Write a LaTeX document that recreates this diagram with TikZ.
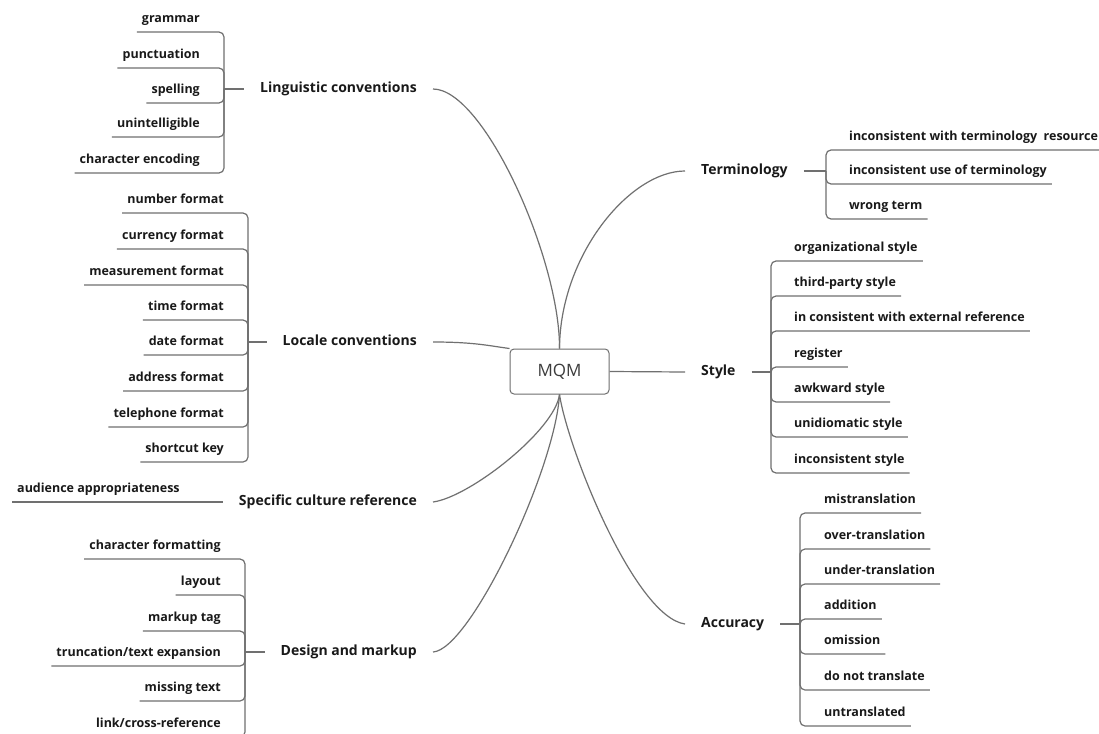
\documentclass[tikz,border=0pt]{standalone}
\usepackage{fontspec}
\setmainfont{Open Sans}
\definecolor{txt}{RGB}{25,25,25}
\definecolor{linegray}{RGB}{112,112,112}
\definecolor{boxgray}{RGB}{110,110,110}
\definecolor{rootgray}{RGB}{60,60,60}
\begin{document}
\begin{tikzpicture}[x=1pt,y=-1pt,
  line/.style={draw=linegray, line width=1.2pt, rounded corners=5pt},
  curve/.style={draw=linegray, line width=1.2pt},
  leaf/.style={font=\fontsize{12.5}{14}\selectfont\bfseries, text=txt, inner xsep=5pt, inner ysep=0pt, text height=9pt, text depth=9pt},
  topic/.style={font=\fontsize{14}{16}\selectfont\bfseries, text=txt, inner xsep=16pt, inner ysep=0pt, text height=10pt, text depth=3pt},
  root/.style={draw=boxgray, line width=1pt, rounded corners=4pt, minimum width=99pt, minimum height=45pt, inner sep=0pt, font=\fontsize{17}{20}\selectfont, text=rootgray}]
\useasboundingbox (0,0) rectangle (1099,733);
\clip (0,0) rectangle (1099,733);
\fill[white] (0,0) rectangle (1099,733);

% root
\node[root] (mqm) at (559.5,371.5) {MQM};

% main topics
\node[topic, anchor=east] (ling) at (433,89) {Linguistic conventions};
\node[topic, anchor=east] (loc) at (433,342) {Locale conventions};
\node[topic, anchor=east] (cult) at (433,502) {Specific culture reference};
\node[topic, anchor=east] (des) at (433,652) {Design and markup};
\node[topic, anchor=west] (term) at (685,171) {Terminology};
\node[topic, anchor=west] (sty) at (685,372) {Style};
\node[topic, anchor=west] (acc) at (685,624) {Accuracy};

% bracket joints
\coordinate (lingb) at (224,89);
\coordinate (locb) at (248,342);
\coordinate (desb) at (245,652);
\coordinate (termb) at (826,171);
\coordinate (styb) at (771,372);
\coordinate (accb) at (800,624);

% root connectors
\draw[curve] (ling.east) .. controls (484,89) and (560,259) .. (mqm.north);
\draw[curve] (term.west) .. controls (630,171) and (560,255) .. (mqm.north);
\draw[curve] (loc.east) .. controls (475,342) and (490,346) .. (mqm.north west);
\draw[curve] (sty.west) -- (mqm.east);
\draw[curve] (cult.east) .. controls (470,497) and (555,430) .. (mqm.south);
\draw[curve] (des.east) .. controls (470,650) and (555,470) .. (mqm.south);
\draw[curve] (acc.west) .. controls (635,617) and (568,450) .. (mqm.south);

% topic to bracket
\draw[line] (lingb) -- (ling.west);
\draw[line] (locb) -- (loc.west);
\draw[line] (desb) -- (des.west);
\draw[line] (term.east) -- (termb);
\draw[line] (sty.east) -- (styb);
\draw[line] (acc.east) -- (accb);

% Linguistic conventions
\node[leaf, anchor=south east] (g1) at (205,32) {grammar};
\node[leaf, anchor=south east] (g2) at (205,68) {punctuation};
\node[leaf, anchor=south east] (g3) at (205,103) {spelling};
\node[leaf, anchor=south east] (g4) at (205,137) {unintelligible};
\node[leaf, anchor=south east] (g5) at (205,173) {character encoding};
\foreach \i in {1,...,5} \draw[line] (lingb) |- (g\i.south west);

% Locale conventions
\node[leaf, anchor=south east] (c1) at (229,213) {number format};
\node[leaf, anchor=south east] (c2) at (229,249) {currency format};
\node[leaf, anchor=south east] (c3) at (229,285) {measurement format};
\node[leaf, anchor=south east] (c4) at (229,320) {time format};
\node[leaf, anchor=south east] (c5) at (229,355) {date format};
\node[leaf, anchor=south east] (c6) at (229,391) {address format};
\node[leaf, anchor=south east] (c7) at (229,427) {telephone format};
\node[leaf, anchor=south east] (c8) at (229,462) {shortcut key};
\foreach \i in {1,...,8} \draw[line] (locb) |- (c\i.south west);

% Specific culture reference
\node[leaf, anchor=south west] (aud) at (12,502) {audience appropriateness};
\draw[line] (cult.west) -- (aud.south west);

% Design and markup
\node[leaf, anchor=south east] (d1) at (226,559) {character formatting};
\node[leaf, anchor=south east] (d2) at (226,595) {layout};
\node[leaf, anchor=south east] (d3) at (226,631) {markup tag};
\node[leaf, anchor=south east] (d4) at (226,666) {truncation/text expansion};
\node[leaf, anchor=south east] (d5) at (226,701) {missing text};
\node[leaf, anchor=south east] (d6) at (226,737) {link/cross-reference};
\foreach \i in {1,...,6} \draw[line] (desb) |- (d\i.south west);

% Terminology
\node[leaf, anchor=south west] (t1) at (844,150) {inconsistent with terminology~ resource};
\node[leaf, anchor=south west] (t2) at (844,184) {inconsistent use of terminology};
\node[leaf, anchor=south west] (t3) at (844,219) {wrong term};
\foreach \i in {1,...,3} \draw[line] (termb) |- (t\i.south east);

% Style
\node[leaf, anchor=south west] (s1) at (789,261) {organizational style};
\node[leaf, anchor=south west] (s2) at (789,296) {third-party style};
\node[leaf, anchor=south west] (s3) at (789,331) {in consistent with external reference};
\node[leaf, anchor=south west] (s4) at (789,367) {register};
\node[leaf, anchor=south west] (s5) at (789,402) {awkward style};
\node[leaf, anchor=south west] (s6) at (789,437) {unidiomatic style};
\node[leaf, anchor=south west] (s7) at (789,473) {inconsistent style};
\foreach \i in {1,...,7} \draw[line] (styb) |- (s\i.south east);

% Accuracy
\node[leaf, anchor=south west] (a1) at (819,513) {mistranslation};
\node[leaf, anchor=south west] (a2) at (819,549) {over-translation};
\node[leaf, anchor=south west] (a3) at (819,584) {under-translation};
\node[leaf, anchor=south west] (a4) at (819,619) {addition};
\node[leaf, anchor=south west] (a5) at (819,654) {omission};
\node[leaf, anchor=south west] (a6) at (819,690) {do not translate};
\node[leaf, anchor=south west] (a7) at (819,726) {untranslated};
\foreach \i in {1,...,7} \draw[line] (accb) |- (a\i.south east);
\end{tikzpicture}
\end{document}
